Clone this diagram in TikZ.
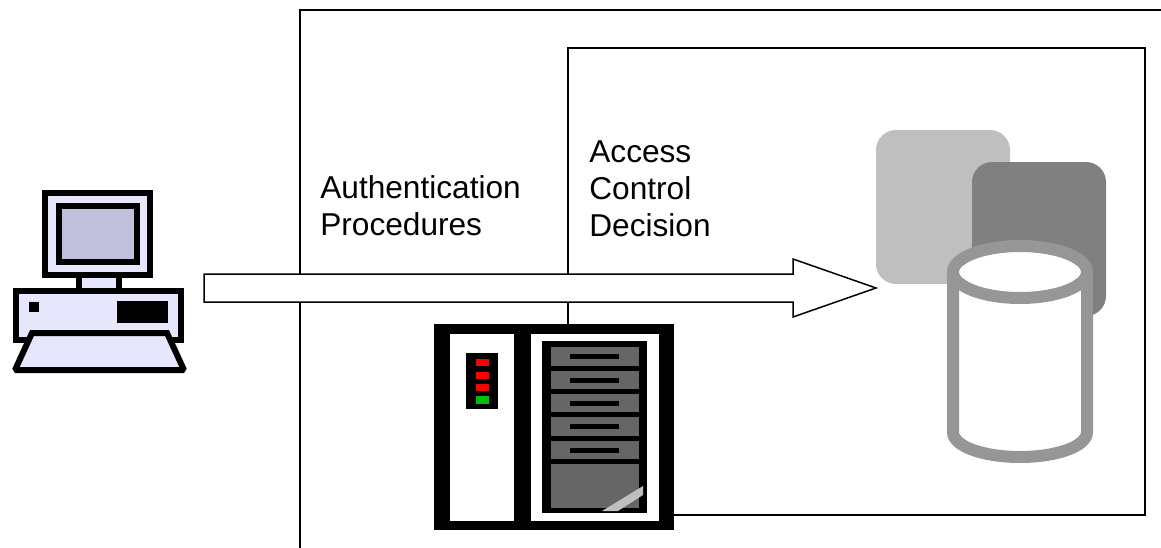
\documentclass[tikz,border=0pt]{standalone}
\usepackage{fontspec}
\setmainfont{Liberation Sans}
\tikzset{
  frame/.style={draw=black, line width=0.03cm},
  lbl/.style={align=left, anchor=north west, inner sep=0pt, font=\fontsize{18}{21.2}\selectfont},
  pc/.style={draw=black, fill=pclight, line width=0.12cm},
  slot/.style={fill=srvgray},
  slit/.style={fill=black},
}
\definecolor{pclight}{RGB}{230,230,252}
\definecolor{pcscreen}{RGB}{192,192,220}
\definecolor{srvgray}{RGB}{102,102,102}
\definecolor{srvlamp}{RGB}{0,190,0}
\definecolor{dbcyl}{RGB}{150,150,150}
\begin{document}
\begin{tikzpicture}[x=0.02cm,y=-0.02cm]
	\useasboundingbox (0,0) rectangle (1161,548);
	% frames
	\draw[frame] (300,548) -- (300,10) -- (1161,10);
	\draw[frame] (568,515) -- (568,48) -- (1145,48) -- (1145,515) -- cycle;

	% labels
	\node[lbl] (auth) at (320,175) {Authentication\\Procedures};
	\node[lbl] (decision) at (589,140) {Access\\Control\\Decision};

	% data stores
	\fill[black!25, rounded corners=0.4cm] (876,130) rectangle (1010,284);
	\fill[black!50, rounded corners=0.4cm] (972,162) rectangle (1106,316);
	\draw[dbcyl, fill=white, line width=0.24cm] (953,272) -- (953,432)
		.. controls (953,447) and (985,457) .. (1020,457)
		.. controls (1055,457) and (1087,447) .. (1087,432) -- (1087,272);
	\draw[dbcyl, fill=white, line width=0.24cm] (1020,272) ellipse [x radius=67, y radius=26];

	% arrow
	\draw[frame, fill=white] (204,274) -- (793,274) -- (793,259) -- (876,288)
		-- (793,317) -- (793,302) -- (204,302) -- cycle;

	% computer
	\draw[pc] (79,270) rectangle (119,295);
	\draw[pc] (45,193) rectangle (150,275);
	\draw[pc, fill=pcscreen] (59,206) rectangle (137,262);
	\draw[pc] (16,291) rectangle (181,340);
	\fill (29,302) rectangle (39,312);
	\fill (117,301) rectangle (168,323);
	\draw[pc, miter limit=1.5] (32,333) -- (167,333) -- (184,370) -- (15,370) -- cycle;

	% server
	\fill (434,324) rectangle (674,530);
	\fill[white] (450,334) rectangle (514,521);
	\fill[white] (531,334) rectangle (659,521);
	\fill (542,341) rectangle (647,513);
	\fill (466,353) rectangle (498,409);
	\foreach \y in {359,372,384}{
		\fill[red] (476,\y) rectangle (489,\y+7);
	}
	\fill[srvlamp] (476,396) rectangle (489,404);
	\foreach \y/\h in {347/19,371/18,394/18,417/19,441/18}{
		\fill[slot] (551,\y) rectangle (639,\y+\h);
		\fill[slit] (570,\y+7) rectangle (619,\y+12);
	}
	\fill[slot] (551,464) rectangle (639,508);
	\fill[black!25] (602,511) -- (643,486) -- (643,495) -- (618,511) -- cycle;
\end{tikzpicture}
\end{document}
